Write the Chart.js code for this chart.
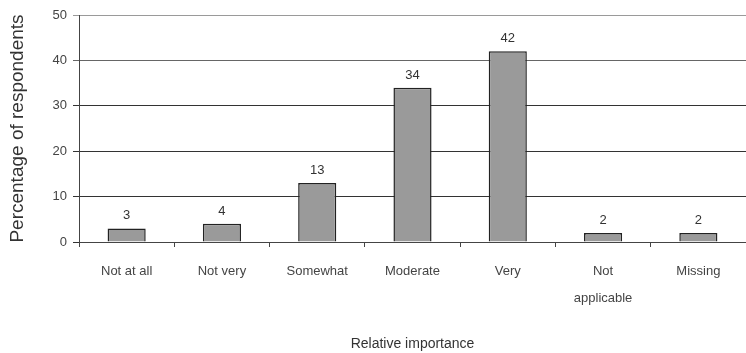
<!DOCTYPE html>
<html>
<head>
<meta charset="utf-8">
<script src="https://cdn.jsdelivr.net/npm/chart.js@4"></script>
<style>
  html, body { margin: 0; padding: 0; background: #fff; }
  #wrap { width: 746px; height: 353px; }
</style>
</head>
<body>
<div id="wrap"><canvas id="chart"></canvas></div>
<script>
const categorias = ['Not at all', 'Not very', 'Somewhat', 'Moderate', 'Very', ['Not', 'applicable'], 'Missing'];
const porcentajes = [3, 4, 13, 34, 42, 2, 2];
const ticksY = [0, 10, 20, 30, 40, 50];

// etiquetas encima de las barras
const etiquetasBarras = {
    id: 'etiquetasBarras',
    afterDatasetsDraw(chart) {
        const ctx = chart.ctx;
        const meta = chart.getDatasetMeta(0);
        ctx.save();
        ctx.font = '13px "Liberation Sans", Arial, sans-serif';
        ctx.fillStyle = '#333';
        ctx.textAlign = 'center';
        ctx.textBaseline = 'bottom';
        meta.data.forEach((bar, i) => {
            ctx.fillText(porcentajes[i], bar.x, bar.y - 6);
        });
        ctx.restore();
    }
};

const ctx = document.getElementById('chart').getContext('2d');
window.myChart = new Chart(ctx, {
    type: 'bar',
    data: {
        labels: categorias,
        datasets: [{
            data: porcentajes,
            backgroundColor: '#9a9a9a',
            borderColor: '#222',
            borderWidth: 1.5,
            categoryPercentage: 1,
            barPercentage: 0.4
        }]
    },
    options: {
        responsive: true,
        maintainAspectRatio: false,
        animation: false,
        layout: { padding: { top: 15, right: 0, left: 0, bottom: 0 } },
        plugins: {
            legend: { display: false },
            tooltip: { enabled: false }
        },
        scales: {
            x: {
                offset: true,
                grid: {
                    display: true,
                    offset: true,
                    drawOnChartArea: false,
                    drawTicks: true,
                    tickLength: 5,
                    color: '#444'
                },
                border: { color: '#444', width: 1 },
                ticks: {
                    color: '#444',
                    padding: 11,
                    maxRotation: 0,
                    autoSkip: false,
                    font: { family: '"Liberation Sans", Arial, sans-serif', size: 13, lineHeight: 2.05 }
                },
                title: {
                    display: true,
                    text: 'Relative importance',
                    color: '#333',
                    padding: { top: 14, bottom: 0 },
                    font: { family: '"Liberation Sans", Arial, sans-serif', size: 14 }
                },
                afterFit(scale) { scale.height = 111; }
            },
            y: {
                min: 0,
                max: 50,
                afterBuildTicks(scale) { scale.ticks = ticksY.map(v => ({ value: v })); },
                grid: {
                    color: c => (c.tick && c.tick.value === 50) ? '#9a9a9a' : (c.tick && c.tick.value === 40 ? '#666' : '#333'),
                    lineWidth: 1,
                    tickLength: 6
                },
                border: { color: '#444', width: 1 },
                ticks: {
                    color: '#444',
                    padding: 6,
                    font: { family: '"Liberation Sans", Arial, sans-serif', size: 13 }
                },
                title: {
                    display: true,
                    text: 'Percentage of respondents',
                    color: '#333',
                    padding: { top: 6, bottom: 0 },
                    font: { family: '"Liberation Sans", Arial, sans-serif', size: 19 }
                },
                afterFit(scale) { scale.width = 79; }
            }
        }
    },
    plugins: [etiquetasBarras]
});
</script>
</body>
</html>
